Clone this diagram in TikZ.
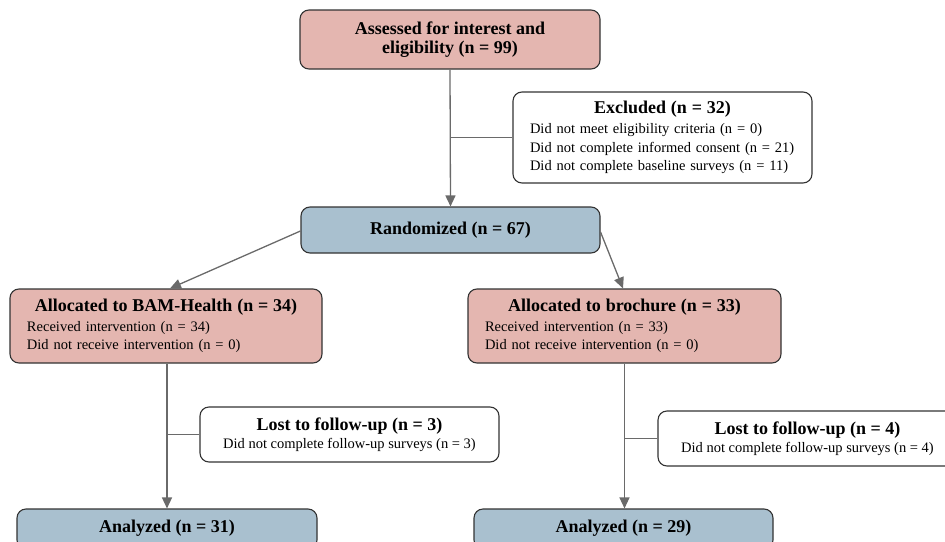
\documentclass[tikz,border=0pt]{standalone}
\usepackage{fontspec}
\setmainfont{Liberation Serif}
\usetikzlibrary{arrows.meta}
\definecolor{pinkfill}{HTML}{E4B6B0}
\definecolor{bluefill}{HTML}{A9C0CF}
\definecolor{edgegray}{HTML}{333333}
\definecolor{linegray}{HTML}{6A6A6A}
\newcommand{\hdr}{\fontsize{18}{21}\selectfont\bfseries}
\newcommand{\bdy}{\fontsize{14.5}{18.7}\selectfont}
\begin{document}
\begin{tikzpicture}[x=1pt,y=-1pt,
  box/.style={draw=edgegray, line width=1.1pt, rounded corners=9pt, inner sep=0pt, font=\bdy},
  pinkbox/.style={box, fill=pinkfill},
  bluebox/.style={box, fill=bluefill},
  whitebox/.style={box, fill=white},
  conn/.style={draw=linegray, line width=1.3pt},
  arr/.style={conn, -{Triangle[length=11pt,width=10pt]}}
]
\useasboundingbox (0,0) rectangle (945,541);
\clip (0,0) rectangle (945,541);

% boxes
\node[pinkbox, minimum width=300pt, minimum height=59pt, align=center] (assess) at (450,39.5)
  {\hdr Assessed for interest and\\[1pt]\hdr eligibility (n = 99)};

\node[whitebox, minimum width=299pt, minimum height=91pt, text width=265pt, align=left] (excl) at (662.5,137.5)
  {\makebox[265pt]{\hdr Excluded (n = 32)}\\[1pt]Did not meet eligibility criteria (n = 0)\\Did not complete informed consent (n = 21)\\Did not complete baseline surveys (n = 11)};

\node[bluebox, minimum width=299pt, minimum height=46pt] (rand) at (450.5,230)
  {\hdr Randomized (n = 67)};

\node[pinkbox, minimum width=312pt, minimum height=74pt, text width=278pt, align=left] (bam) at (166,326)
  {\makebox[278pt]{\hdr Allocated to BAM-Health (n = 34)}\\[1pt]Received intervention (n = 34)\\Did not receive intervention (n = 0)};

\node[pinkbox, minimum width=313pt, minimum height=74pt, text width=279pt, align=left] (broc) at (624.5,326)
  {\makebox[279pt]{\hdr Allocated to brochure (n = 33)}\\[1pt]Received intervention (n = 33)\\Did not receive intervention (n = 0)};

\node[whitebox, minimum width=299pt, minimum height=55pt, align=center] (lost1) at (349.5,434.5)
  {\hdr Lost to follow-up (n = 3)\\[-1pt]Did not complete follow-up surveys (n = 3)};

\node[whitebox, minimum width=299pt, minimum height=55pt, align=center] (lost2) at (807.5,438.5)
  {\hdr Lost to follow-up (n = 4)\\[-1pt]Did not complete follow-up surveys (n = 4)};

\node[bluebox, minimum width=300pt, minimum height=40pt] (an1) at (167,529)
  {\raisebox{6pt}{\hdr Analyzed (n = 31)}};
\node[bluebox, minimum width=299pt, minimum height=40pt] (an2) at (623.5,529)
  {\raisebox{6pt}{\hdr Analyzed (n = 29)}};

% connectors
\coordinate (b1) at (assess.south |- excl.west);
\draw[arr] (assess.south) -- (rand.north);
\draw[conn] (b1) -- (excl.west);

\draw[arr] (rand.west |- 0,231) -- (bam.north -| 170,0);
\draw[arr] (rand.east |- 0,232) -- (broc.north -| 623,0);

\coordinate (b2) at (167,434.5);
\draw[arr] (bam.south -| 167,0) -- (an1.north -| 167,0);
\draw[conn] (b2) -- (lost1.west);

\coordinate (b3) at (624.5,438.5);
\draw[arr] (broc.south -| 624.5,0) -- (an2.north -| 624.5,0);
\draw[conn] (b3) -- (lost2.west);
\end{tikzpicture}
\end{document}
